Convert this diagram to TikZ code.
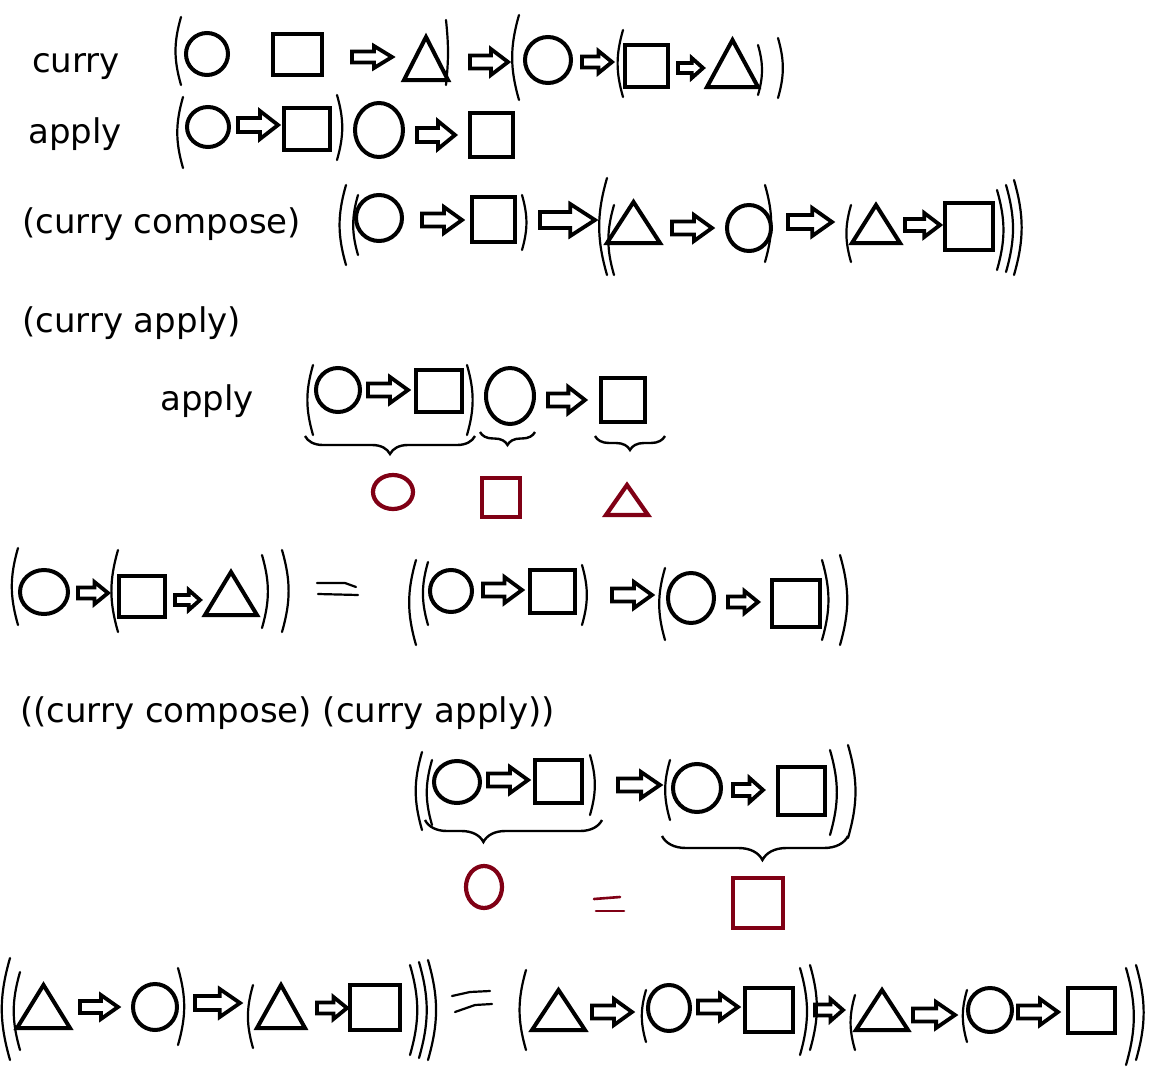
\documentclass[tikz,border=0pt]{standalone}
\usepackage{fontspec}
\setmainfont{DejaVu Sans}
\usetikzlibrary{decorations.pathreplacing}
\definecolor{dred}{RGB}{128,0,21}
\tikzset{
  shp/.style={line width=4pt, line join=miter},
  rshp/.style={line width=4.2pt, dred},
  parn/.style={line width=2.2pt, line cap=round},
  brc/.style={line width=2.4pt, decorate, decoration={brace, mirror, amplitude=#1}},
  lbl/.style={anchor=base west, inner sep=0pt, font=\fontsize{34}{40}\selectfont}
}
\newcommand\Ov[5][shp]{\draw[#1] (#2,#3) ellipse [x radius=#4pt, y radius=#5pt];}
\newcommand\Sq[5][shp]{\draw[#1] (#2,#3) rectangle (#4,#5);}
\newcommand\Tri[5][shp]{\draw[#1] (#2,#3) -- ({(#2+#4)/2},#5) -- (#4,#3) -- cycle;}
\newcommand\Arr[4]{%
  \pgfmathsetmacro\axs{#2-0.45*(#2-#1)}%
  \pgfmathsetmacro\ash{0.5*#4}%
  \draw[shp, line width=3.8pt] (#1,#3-\ash) -- (\axs,#3-\ash) -- (\axs,#3-#4) -- (#2,#3) -- (\axs,#3+#4) -- (\axs,#3+\ash) -- (#1,#3+\ash) -- cycle;}
\newcommand\Lp[4][16]{\draw[parn] (#2,#3) to[bend right=#1] (#2,#4);}
\newcommand\Rp[4][16]{\draw[parn] (#2,#3) to[bend left=#1] (#2,#4);}
\begin{document}
\begin{tikzpicture}[x=1pt,y=-1pt]
\useasboundingbox[fill=white] (0,0) rectangle (1152,1068);
% ---------- row 1 : curry
\node[lbl] (tcurry) at (32,72) {curry};
\Lp{181}{17}{85}
\Ov{207}{54}{21}{21}
\Sq{273}{34}{322}{75}
\Arr{352}{392}{57}{11}
\Tri{404}{80}{448}{37}
\Rp[6]{446}{20}{85}
\Arr{470}{508}{62}{13}
\Lp{519}{15}{100}
\Ov{548}{60}{23}{23}
\Arr{582}{612}{62}{11}
\Lp{623}{30}{97}
\Sq{625}{45}{668}{87}
\Arr{678}{703}{68}{10}
\Tri{707}{87}{758}{40}
\Rp{758}{45}{95}
\Rp{778}{38}{98}
% ---------- row 2 : apply
\node[lbl] (tapply) at (28,143) {apply};
\Lp{183}{97}{168}
\Ov{208}{127}{21}{20}
\Arr{238}{278}{125}{14}
\Sq{284}{108}{330}{150}
\Rp{337}{95}{160}
\Ov{379}{130}{24}{27}
\Arr{417}{455}{135}{14}
\Sq{470}{113}{513}{157}
% ---------- row 3 : (curry compose)
\node[lbl] (tcc) at (22,233) {(curry compose)};
\Lp{346}{185}{265}
\Lp{358}{195}{255}
\Ov{379}{218}{23}{23}
\Arr{422}{462}{220}{13}
\Sq{472}{197}{515}{242}
\Rp{522}{195}{250}
\Arr{540}{595}{220}{16}
\Lp{607}{178}{275}
\Lp{614}{205}{275}
\Tri{607}{243}{660}{202}
\Arr{672}{712}{228}{13}
\Ov{749}{228}{22}{23}
\Rp{765}{185}{262}
\Arr{788}{832}{222}{14}
\Lp{851}{205}{262}
\Tri{852}{243}{900}{205}
\Arr{905}{940}{225}{12}
\Sq{945}{203}{993}{250}
\Rp{997}{190}{270}
\Rp{1006}{185}{272}
\Rp{1014}{180}{275}
% ---------- row 4 : (curry apply)
\node[lbl] (tca) at (22,332) {(curry apply)};
\node[lbl] (tapply2) at (160,410) {apply};
\Lp{313}{365}{435}
\Ov{338}{390}{22}{22}
\Arr{368}{408}{390}{13}
\Sq{416}{370}{462}{412}
\Rp{467}{365}{435}
\Ov{510}{396}{24}{28}
\Arr{548}{585}{400}{13}
\Sq{601}{378}{645}{422}
\draw[brc=18] (305,436) -- (475,436);
\draw[brc=13] (480,432) -- (535,432);
\draw[brc=14] (595,436) -- (665,436);
\Ov[rshp]{393}{492}{20}{17}
\Sq[rshp]{482}{478}{520}{517}
\Tri[rshp]{606}{515}{648}{485}
% ---------- row 5
\Lp{18}{548}{625}
\Ov{44}{592}{24}{22}
\Arr{78}{108}{593}{11}
\Lp{118}{550}{632}
\Sq{119}{576}{165}{617}
\Arr{175}{200}{600}{10}
\Tri{205}{615}{257}{572}
\Rp{262}{555}{628}
\Rp{282}{550}{632}
\draw[parn] (317,583) -- (345,583) -- (356,587);
\draw[parn] (318,594) -- (358,595);
\Lp{416}{560}{645}
\Lp{428}{562}{625}
\Ov{451}{591}{21}{21}
\Arr{483}{522}{590}{13}
\Sq{530}{570}{575}{613}
\Rp{582}{565}{625}
\Arr{612}{652}{595}{13}
\Lp{665}{568}{640}
\Ov{691}{598}{23}{25}
\Arr{728}{758}{602}{11}
\Sq{772}{580}{820}{627}
\Rp{822}{560}{640}
\Rp{840}{555}{645}
% ---------- row 6
\node[lbl] (tccca) at (20,722) {((curry compose) (curry apply))};
% ---------- row 7
\Lp{422}{752}{830}
\Lp{432}{760}{825}
\Ov{457}{782}{23}{21}
\Arr{488}{528}{780}{13}
\Sq{535}{760}{582}{803}
\Rp{590}{755}{815}
\Arr{618}{660}{785}{13}
\Lp{670}{760}{820}
\Ov{697}{788}{24}{24}
\Arr{733}{763}{790}{12}
\Sq{778}{767}{825}{815}
\Rp{830}{750}{835}
\Rp{848}{745}{838}
\draw[brc=22, decoration={aspect=0.33}] (425,820) -- (602,820);
\draw[brc=24, decoration={aspect=0.54}] (662,836) -- (848,836);
\Ov[rshp]{484}{887}{18}{21}
\draw[parn, dred, line width=2.6pt] (594,899) -- (620,897);
\draw[parn, dred, line width=2.6pt] (596,911) -- (624,911);
\Sq[rshp]{733}{878}{783}{928}
% ---------- row 8
\Lp{10}{958}{1060}
\Lp{20}{972}{1050}
\Tri{17}{1028}{70}{985}
\Arr{80}{118}{1007}{12}
\Ov{155}{1007}{22}{23}
\Rp{178}{968}{1045}
\Arr{195}{240}{1003}{14}
\Lp{253}{985}{1048}
\Tri{257}{1028}{305}{985}
\Arr{317}{347}{1008}{11}
\Sq{350}{985}{400}{1030}
\Rp{410}{965}{1055}
\Rp{419}{962}{1058}
\Rp{428}{960}{1060}
\draw[parn] (452,996) -- (470,992) -- (490,991);
\draw[parn] (455,1012) -- (475,1005) -- (492,1004);
\Lp{526}{970}{1050}
\Tri{532}{1030}{585}{990}
\Arr{592}{632}{1012}{13}
\Lp{646}{990}{1042}
\Ov{669}{1008}{21}{23}
\Arr{698}{738}{1007}{13}
\Sq{745}{988}{793}{1032}
\Rp{800}{968}{1055}
\Rp{810}{965}{1050}
\Arr{815}{843}{1010}{11}
\Lp{855}{995}{1050}
\Tri{856}{1030}{908}{990}
\Arr{913}{955}{1015}{13}
\Lp{967}{990}{1042}
\Ov{990}{1010}{22}{22}
\Arr{1018}{1058}{1012}{13}
\Sq{1068}{988}{1115}{1033}
\Rp{1126}{968}{1065}
\Rp{1136}{965}{1060}
\end{tikzpicture}
\end{document}
